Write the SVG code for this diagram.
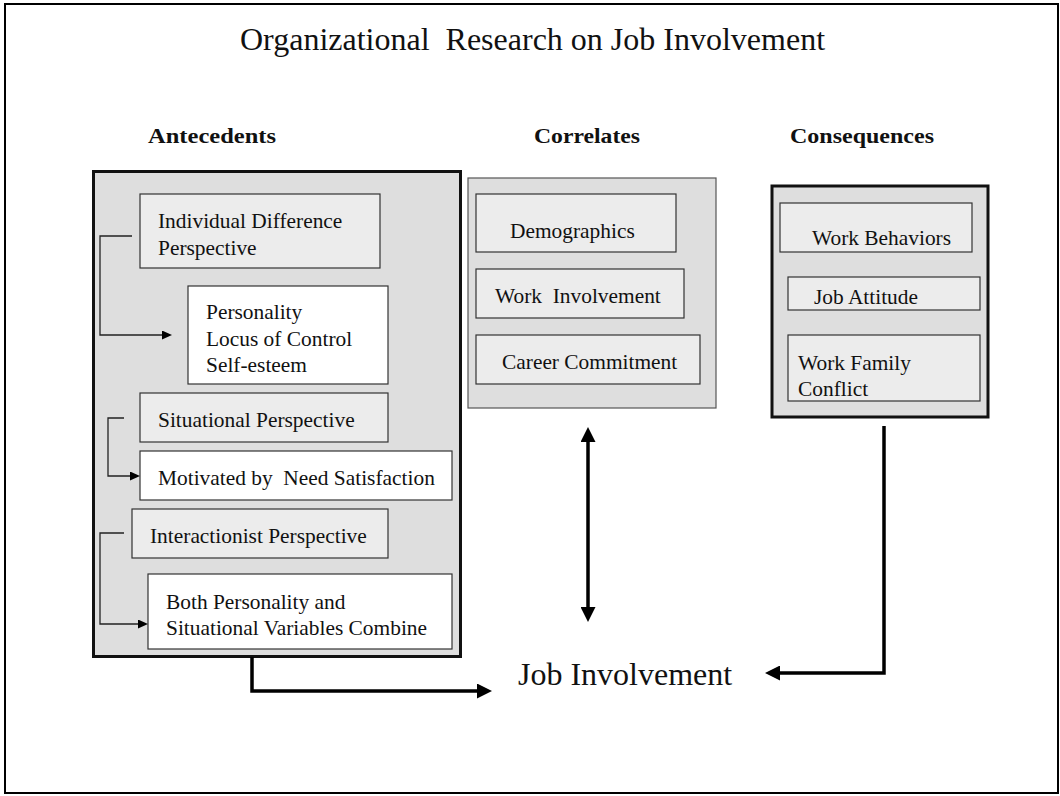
<svg xmlns="http://www.w3.org/2000/svg" width="1060" height="796" viewBox="0 0 1060 796">
  <style>
    text { font-family: "Liberation Serif", "Times New Roman", serif; fill: #111; white-space: pre; }
    .t { font-size: 21.4px; }
    .h { font-size: 21px; font-weight: bold; }
    .big { font-size: 32px; }
    .panel { fill: #dedede; }
    .heavy { stroke: #111; stroke-width: 3; }
    .light { stroke: #555; stroke-width: 1.2; }
    .grey { fill: #ececec; stroke: #333; stroke-width: 1.2; }
    .white { fill: #fff; stroke: #333; stroke-width: 1.2; }
    .thin { fill: none; stroke: #222; stroke-width: 1.3; }
    .thick { fill: none; stroke: #000; stroke-width: 3.5; }
  </style>
  <defs>
    <marker id="headS" markerUnits="userSpaceOnUse" markerWidth="10" markerHeight="9" viewBox="0 0 10 9" refX="1" refY="4.5" orient="auto">
      <path d="M0,0 L10,4.5 L0,9 z" fill="#000"/>
    </marker>
    <marker id="headL" markerUnits="userSpaceOnUse" markerWidth="15" markerHeight="15" viewBox="0 0 15 15" refX="1" refY="7.5" orient="auto-start-reverse">
      <path d="M0,0 L15,7.5 L0,15 z" fill="#000"/>
    </marker>
  </defs>

  <!-- page frame -->
  <rect x="5" y="4" width="1053" height="789" fill="#fff" stroke="#000" stroke-width="2"/>

  <text class="big" x="240" y="50">Organizational  Research on Job Involvement</text>
  <text class="h" x="148" y="143" textLength="128" lengthAdjust="spacingAndGlyphs">Antecedents</text>
  <text class="h" x="534" y="143" textLength="106" lengthAdjust="spacingAndGlyphs">Correlates</text>
  <text class="h" x="790" y="143" textLength="144" lengthAdjust="spacingAndGlyphs">Consequences</text>

  <!-- Antecedents -->
  <g id="antecedents">
    <rect class="panel heavy" x="93.5" y="171.5" width="367" height="485"/>
  </g>
  <g id="individual-difference">
    <rect class="grey" x="140" y="194" width="240" height="74"/>
    <text class="t" x="158" y="228">Individual Difference</text>
    <text class="t" x="158" y="255">Perspective</text>
  </g>
  <g id="personality">
    <rect class="white" x="188" y="286" width="200" height="98"/>
    <text class="t" x="206" y="319">Personality</text>
    <text class="t" x="206" y="346">Locus of Control</text>
    <text class="t" x="206" y="372">Self-esteem</text>
  </g>
  <g id="situational">
    <rect class="grey" x="140" y="393" width="248" height="49"/>
    <text class="t" x="158" y="427">Situational Perspective</text>
  </g>
  <g id="need-satisfaction">
    <rect class="white" x="140" y="451" width="312" height="49"/>
    <text class="t" x="158" y="485">Motivated by  Need Satisfaction</text>
  </g>
  <g id="interactionist">
    <rect class="grey" x="132" y="509" width="256" height="49"/>
    <text class="t" x="150" y="543">Interactionist Perspective</text>
  </g>
  <g id="combine">
    <rect class="white" x="148" y="574" width="304" height="75"/>
    <text class="t" x="166" y="609">Both Personality and</text>
    <text class="t" x="166" y="635">Situational Variables Combine</text>
  </g>

  <!-- Correlates -->
  <g id="correlates">
    <rect class="panel light" x="468" y="178" width="248" height="230"/>
  </g>
  <g id="demographics">
    <rect class="grey" x="476" y="194" width="200" height="58"/>
    <text class="t" x="510" y="238">Demographics</text>
  </g>
  <g id="work-involvement">
    <rect class="grey" x="476" y="269" width="208" height="49"/>
    <text class="t" x="495" y="303">Work  Involvement</text>
  </g>
  <g id="career-commitment">
    <rect class="grey" x="476" y="335" width="224" height="49"/>
    <text class="t" x="502" y="369">Career Commitment</text>
  </g>

  <!-- Consequences -->
  <g id="consequences">
    <rect class="panel heavy" x="772" y="186" width="216" height="231"/>
  </g>
  <g id="work-behaviors">
    <rect class="grey" x="780" y="203" width="192" height="49"/>
    <text class="t" x="812" y="245">Work Behaviors</text>
  </g>
  <g id="job-attitude">
    <rect class="grey" x="788" y="277" width="192" height="33"/>
    <text class="t" x="814" y="304">Job Attitude</text>
  </g>
  <g id="work-family">
    <rect class="grey" x="788" y="335" width="192" height="66"/>
    <text class="t" x="798" y="370">Work Family</text>
    <text class="t" x="798" y="396">Conflict</text>
  </g>

  <g id="job-involvement">
    <text class="big" x="518" y="685">Job Involvement</text>
  </g>

  <!-- connectors -->
  <g id="connectors">
    <path class="thin" d="M132,236 H100 V335 H163" marker-end="url(#headS)"/>
    <path class="thin" d="M124,418 H108 V476 H131" marker-end="url(#headS)"/>
    <path class="thin" d="M124,533 H100 V624 H139" marker-end="url(#headS)"/>
    <path class="thick" d="M252,657 V691 H478" marker-end="url(#headL)"/>
    <path class="thick" d="M884,426 V673 H779" marker-end="url(#headL)"/>
    <path class="thick" d="M588,441 V608" marker-start="url(#headL)" marker-end="url(#headL)"/>
  </g>
</svg>
